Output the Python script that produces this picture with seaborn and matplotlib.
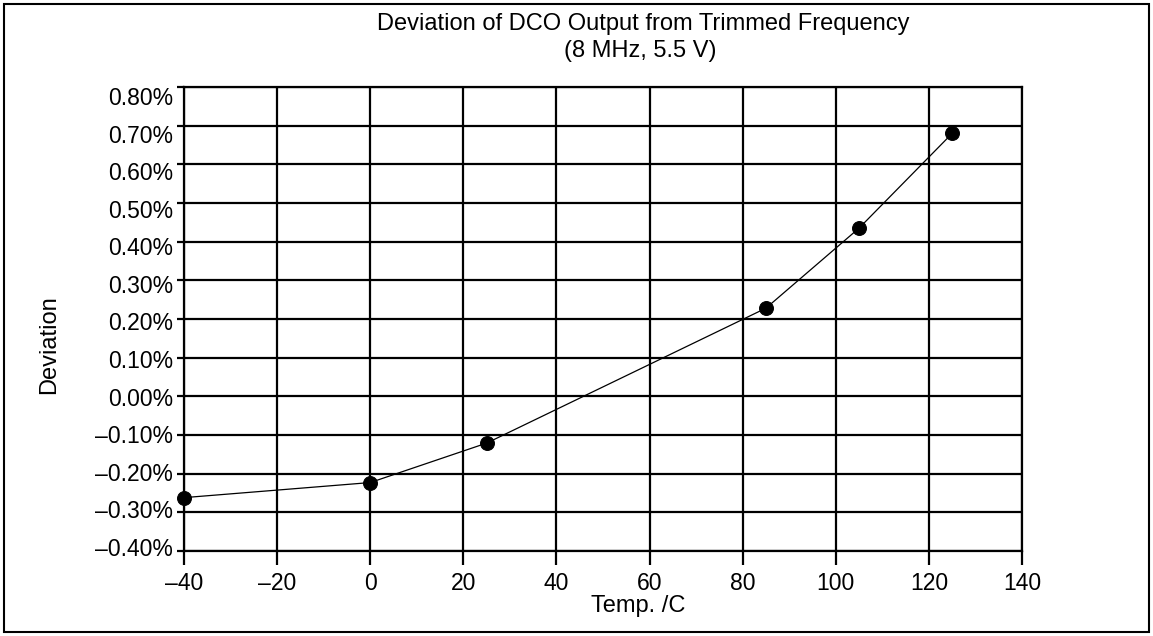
import numpy as np
import pandas as pd
import matplotlib
matplotlib.use("Agg")
import matplotlib.pyplot as plt
import matplotlib.ticker as mticker
import matplotlib.transforms as mtransforms
from matplotlib.patches import Rectangle
import seaborn as sns

# data
temps = [-40, 0, 25, 85, 105, 125]
deviation_pct = [-0.262, -0.223, -0.121, 0.228, 0.435, 0.680]

x_ticks = [-40, -20, 0, 20, 40, 60, 80, 100, 120, 140]
y_ticks = [-0.40, -0.30, -0.20, -0.10, 0.00, 0.10, 0.20, 0.30, 0.40, 0.50, 0.60, 0.70, 0.80]

df = pd.DataFrame({"temp": temps, "dev": deviation_pct})

sns.set_style("white")
plt.rcParams["font.family"] = ["Liberation Sans", "DejaVu Sans"]
plt.rcParams["axes.unicode_minus"] = True
plt.rcParams["text.color"] = "black"

W, H = 1153, 636
fig = plt.figure(figsize=(W / 100, H / 100), dpi=100)
ax = fig.add_axes([184 / W, 1 - 551 / H, (1022 - 184) / W, (551 - 87) / H])

sns.lineplot(data=df, x="temp", y="dev", ax=ax, color="black", linewidth=0.9,
             marker="o", markersize=10, markeredgecolor="black", zorder=5)
for ln in ax.lines:
    ln.set_clip_on(False)

ax.set_xlim(-40, 140)
ax.set_ylim(-0.40, 0.80)
ax.set_xticks(x_ticks)
ax.set_yticks(y_ticks)
ax.xaxis.set_major_formatter(mticker.FuncFormatter(lambda v, p: f"{v:.0f}".replace("-", "\u2013")))
ax.yaxis.set_major_formatter(mticker.FuncFormatter(lambda v, p: f"{v:.2f}%".replace("-", "\u2013")))

ax.grid(True, color="black", linewidth=1.6)
for s in ax.spines.values():
    s.set_color("black")
    s.set_linewidth(1.6)
ax.tick_params(axis="both", which="major", labelsize=16.5, colors="black",
               direction="out", width=1.6, bottom=True, left=True)
ax.tick_params(axis="x", length=10, pad=5)
ax.tick_params(axis="y", length=5, pad=3)
ax.set_xlabel("")
ax.set_ylabel("")

# y labels drift slightly relative to the grid lines in the reference
labels = ax.get_yticklabels()
n = len(labels)
for i, lbl in enumerate(labels):
    shift_px = -4 + 13 * i / (n - 1)  # bottom label a bit high, top one a bit low
    off = mtransforms.ScaledTranslation(0, shift_px / 100 * -1, fig.dpi_scale_trans)
    lbl.set_transform(lbl.get_transform() + off)

fig.text(638 / W, 1 - 606 / H, "Temp. /C", ha="center", va="center", fontsize=17)
fig.text(49 / W, 1 - 345 / H, "Deviation", ha="center", va="center",
         rotation=90, fontsize=17)

fig.text(643 / W, 1 - 24 / H, "Deviation of DCO Output from Trimmed Frequency",
         ha="center", va="center", fontsize=17)
fig.text(640 / W, 1 - 51 / H, "(8 MHz, 5.5 V)", ha="center", va="center", fontsize=17)

fig.patches.append(Rectangle((4 / W, 4 / H), 1 - 8 / W, 1 - 8 / H,
                             transform=fig.transFigure, fill=False,
                             edgecolor="black", linewidth=1.5))

fig.savefig("out.png", dpi=100, facecolor="white")
